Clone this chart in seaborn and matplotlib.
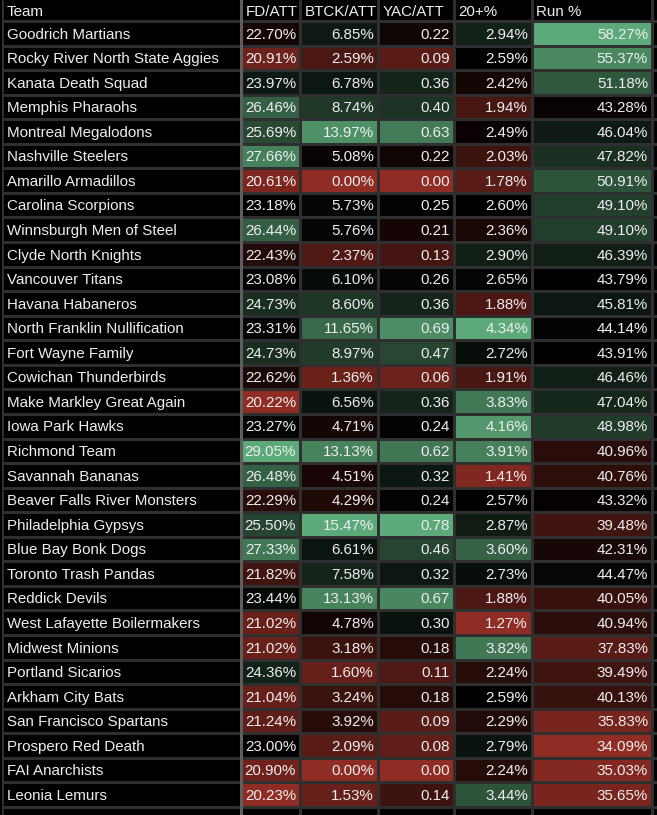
import numpy as np
import matplotlib
matplotlib.use("Agg")
import matplotlib.pyplot as plt
import seaborn as sns
from matplotlib.colors import LinearSegmentedColormap
from matplotlib.lines import Line2D

teams = [
    "Goodrich Martians", "Rocky River North State Aggies", "Kanata Death Squad",
    "Memphis Pharaohs", "Montreal Megalodons", "Nashville Steelers",
    "Amarillo Armadillos", "Carolina Scorpions", "Winnsburgh Men of Steel",
    "Clyde North Knights", "Vancouver Titans", "Havana Habaneros",
    "North Franklin Nullification", "Fort Wayne Family", "Cowichan Thunderbirds",
    "Make Markley Great Again", "Iowa Park Hawks", "Richmond Team",
    "Savannah Bananas", "Beaver Falls River Monsters", "Philadelphia Gypsys",
    "Blue Bay Bonk Dogs", "Toronto Trash Pandas", "Reddick Devils",
    "West Lafayette Boilermakers", "Midwest Minions", "Portland Sicarios",
    "Arkham City Bats", "San Francisco Spartans", "Prospero Red Death",
    "FAI Anarchists", "Leonia Lemurs",
]
fd_att = [22.70, 20.91, 23.97, 26.46, 25.69, 27.66, 20.61, 23.18, 26.44, 22.43,
          23.08, 24.73, 23.31, 24.73, 22.62, 20.22, 23.27, 29.05, 26.48, 22.29,
          25.50, 27.33, 21.82, 23.44, 21.02, 21.02, 24.36, 21.04, 21.24, 23.00,
          20.90, 20.23]
btck_att = [6.85, 2.59, 6.78, 8.74, 13.97, 5.08, 0.00, 5.73, 5.76, 2.37,
            6.10, 8.60, 11.65, 8.97, 1.36, 6.56, 4.71, 13.13, 4.51, 4.29,
            15.47, 6.61, 7.58, 13.13, 4.78, 3.18, 1.60, 3.24, 3.92, 2.09,
            0.00, 1.53]
yac_att = [0.22, 0.09, 0.36, 0.40, 0.63, 0.22, 0.00, 0.25, 0.21, 0.13,
           0.26, 0.36, 0.69, 0.47, 0.06, 0.36, 0.24, 0.62, 0.32, 0.24,
           0.78, 0.46, 0.32, 0.67, 0.30, 0.18, 0.11, 0.18, 0.09, 0.08,
           0.00, 0.14]
twenty_plus = [2.94, 2.59, 2.42, 1.94, 2.49, 2.03, 1.78, 2.60, 2.36, 2.90,
               2.65, 1.88, 4.34, 2.72, 1.91, 3.83, 4.16, 3.91, 1.41, 2.57,
               2.87, 3.60, 2.73, 1.88, 1.27, 3.82, 2.24, 2.59, 2.29, 2.79,
               2.24, 3.44]
run_pct = [58.27, 55.37, 51.18, 43.28, 46.04, 47.82, 50.91, 49.10, 49.10, 46.39,
           43.79, 45.81, 44.14, 43.91, 46.46, 47.04, 48.98, 40.96, 40.76, 43.32,
           39.48, 42.31, 44.47, 40.05, 40.94, 37.83, 39.49, 40.13, 35.83, 34.09,
           35.03, 35.65]
headers = ["Team", "FD/ATT", "BTCK/ATT", "YAC/ATT", "20+%", "Run %", "Pass %"]

W, H = 657, 815
fig = plt.figure(figsize=(W / 100, H / 100), dpi=100, facecolor="black")
cmap = LinearSegmentedColormap.from_list("rg", ["#8f2c23", "#000000", "#5ca979"])

row_h = 24.56
top_px = 21 - row_h
nrows = len(teams) + 2
bottom_px = top_px + nrows * row_h
FONT = ["Liberation Sans", "DejaVu Sans"]
FS = 10.9
TXT = "#eeeeee"
GRID = "#2f2f2f"


def add_ax(x0, x1):
    return fig.add_axes([x0 / W, 1 - bottom_px / H, (x1 - x0) / W, nrows * row_h / H])


def scaled(vals):
    v = np.asarray(vals, float)
    med, lo, hi = np.median(v), v.min(), v.max()
    return np.where(v >= med, (v - med) / (hi - med), (v - med) / (med - lo))


def draw_col(x0, x1, vals, labels, header, align):
    ax = add_ax(x0, x1)
    z = np.zeros(nrows) if vals is None else np.concatenate([[0], scaled(vals), [0]])
    sns.heatmap(z.reshape(-1, 1), ax=ax, cmap=cmap, vmin=-1, vmax=1, cbar=False,
                linewidths=1, linecolor=GRID, xticklabels=False, yticklabels=False)
    w = x1 - x0
    hx = 4.5 / w
    ax.text(hx, 0.62, header, ha="left", va="center", color=TXT,
            fontsize=FS, family=FONT)
    if labels is not None:
        for i, lab in enumerate(labels):
            if align == "left":
                ax.text(5 / w, i + 1.55, lab, ha="left", va="center", color=TXT,
                        fontsize=FS, family=FONT)
            else:
                ax.text(1 - 4 / w, i + 1.55, lab, ha="right", va="center",
                        color=TXT, fontsize=FS, family=FONT)
    return ax


edges = [2, 241, 300, 378, 454, 532, 652, 720]
draw_col(edges[0], edges[1], None, teams, headers[0], "left")
series = [
    (fd_att, "{:.2f}%"), (btck_att, "{:.2f}%"), (yac_att, "{:.2f}"),
    (twenty_plus, "{:.2f}%"), (run_pct, "{:.2f}%"),
]
for k, (vals, fmt) in enumerate(series):
    draw_col(edges[k + 1], edges[k + 2], vals, [fmt.format(v) for v in vals],
             headers[k + 1], "right")
draw_col(edges[6], edges[7], None, None, headers[6], "left")

fig.add_artist(Line2D([241 / W, 241 / W], [0, 1], color="#5e5e5e", lw=2.2))

fig.savefig("out.png", dpi=100, facecolor="black")
